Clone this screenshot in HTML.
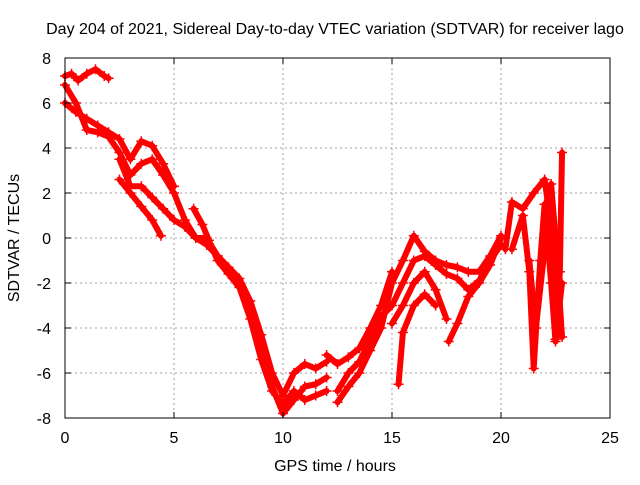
<!DOCTYPE html>
<html><head><meta charset="utf-8"><style>
body{margin:0;background:#fff;}
svg text{font-family:"Liberation Sans",sans-serif;font-size:16px;fill:#000;}
</style></head><body>
<svg id="chart" width="640" height="480">
<rect width="640" height="480" fill="#fff"/>
<g id="grid"></g><g id="marks"></g><g id="axes"></g>
<text x="335" y="34" text-anchor="middle">Day 204 of 2021, Sidereal Day-to-day VTEC variation (SDTVAR) for receiver lago</text>
<text x="335" y="471" text-anchor="middle">GPS time / hours</text>
<text transform="translate(19,238) rotate(-90)" text-anchor="middle">SDTVAR / TECUs</text>
</svg>
<script>
const xTicks=[0,5,10,15,20,25];
const yTicks=[-8,-6,-4,-2,0,2,4,6,8];
const trackA=[[0,7.2],[0.3,7.3],[0.6,7.0],[1,7.3],[1.4,7.5],[1.8,7.2],[2,7.1]];
const trackB=[[0,6.0],[0.5,5.6],[1,5.3],[1.5,5.0],[2,4.7],[2.5,4.4],[3,3.5],[3.5,4.3],[4,4.1],[4.5,3.3],[5,2.3]];
const trackC=[[0,6.8],[0.5,6.0],[1,4.8],[1.5,4.7],[2,4.5],[2.5,3.8],[3,2.8],[3.5,3.3],[4,3.5],[4.5,2.8],[5,2.0],[5.5,0.8],[6,0.0],[6.5,0],[7,-0.8],[7.5,-1.3],[8,-1.8],[8.5,-2.8],[9,-4.3],[9.5,-6.0],[10,-7.0],[10.5,-6.0],[11,-5.6],[11.5,-5.8],[12,-5.5]];
const trackD=[[2.5,2.6],[3,2.0],[3.5,1.4],[4,0.8],[4.4,0.1]];
const trackE=[[2.5,3.5],[3,2.3],[3.5,2.3],[4,1.8],[4.5,1.3],[5,0.8],[5.5,0.5],[6,0.0],[6.5,-0.3],[7,-0.8],[7.5,-1.5],[8,-2.1],[8.5,-3.2],[9,-5.0],[9.5,-6.6],[10,-7.8],[10.5,-7.2],[11,-6.6],[11.5,-6.5],[12,-6.2]];
const trackF=[[5.9,1.3],[6.3,0.6],[6.6,-0.1],[7,-1.0],[7.5,-1.6],[8,-2.2],[8.5,-3.6],[9,-5.4],[9.5,-6.8],[10,-7.4],[10.5,-6.8],[11,-7.2],[11.5,-7.0],[12,-6.8]];
const trackG=[[12.5,-7.3],[13,-6.6],[13.5,-6.0],[14,-5.0],[14.5,-4.0],[15,-2.0],[15.5,-1.0],[16,0.1],[16.5,-0.6],[17,-1.0],[17.5,-1.2],[18,-1.3],[18.5,-1.5],[19,-1.5],[19.5,-0.8],[20,0.1]];
const trackH=[[12.5,-6.8],[13,-6.0],[13.5,-5.5],[14,-4.5],[14.5,-3.5],[15,-3.0],[15.5,-2.0],[16,-1.0],[16.5,-0.8],[17,-1.2],[17.5,-1.6],[18,-1.8],[18.5,-2.3],[19,-1.9],[19.5,-1.0],[20,-0.3]];
const trackI=[[12,-5.2],[12.5,-5.6],[13,-5.3],[13.5,-4.9],[14,-4.0],[14.5,-3.0],[15,-1.5]];
const trackJ=[[15,-3.8],[15.5,-3.0],[16,-2.0],[16.5,-1.5],[17,-2.3],[17.5,-3.6]];
const trackK=[[15.3,-6.5],[15.5,-4.2],[16,-3.0],[16.5,-2.5],[17,-3.0]];
const trackL=[[17.6,-4.6],[18,-3.8],[18.5,-2.6],[19,-2.0],[19.5,-1.2],[20,0.0]];
const trackM=[[20.2,-0.5],[20.5,1.6],[21,1.3],[21.5,2.0],[22,2.6],[22.3,0.5],[22.5,-4.5],[22.8,-2.0]];
const trackN=[[20.5,-0.5],[21,1.0],[21.3,-1.5],[21.5,-5.8],[21.8,-1.0],[22,1.5],[22.3,-2.0],[22.5,-4.6],[22.7,-1.5],[22.8,3.8]];
const trackO=[[21.3,-1.0],[21.6,-4.0],[22,-0.5],[22.3,2.4],[22.5,0.0],[22.8,-4.4]];
const tracks=[trackA,trackB,trackC,trackD,trackE,trackF,trackG,trackH,trackI,trackJ,trackK,trackL,trackM,trackN,trackO];

const X0=65,X1=610,Y0=418,Y1=58;
const sx=v=>X0+(v-0)/(25-0)*(X1-X0);
const sy=v=>Y0-(v+8)/16*(Y0-Y1);
const NS="http://www.w3.org/2000/svg";
const mk=(t,a,p)=>{const e=document.createElementNS(NS,t);for(const k in a)e.setAttribute(k,a[k]);p.appendChild(e);return e;};
const grid=document.getElementById('grid'),axes=document.getElementById('axes'),marks=document.getElementById('marks');
xTicks.forEach(t=>{
  const x=sx(t);
  if(t>0&&t<25){const g=mk('line',{x1:x,x2:x,y1:Y1,y2:Y0,stroke:'#a0a0a0','stroke-dasharray':'2,3'},grid);
  
  }
  const l=mk('text',{x:x,y:Y0+25,'text-anchor':'middle'},axes);l.textContent=t;
  
  
  mk('line',{x1:x,x2:x,y1:Y0,y2:Y0-6,stroke:'#000'},axes);
  mk('line',{x1:x,x2:x,y1:Y1,y2:Y1+6,stroke:'#000'},axes);
});
yTicks.forEach(t=>{
  const y=sy(t);
  if(t>-8&&t<8){const g=mk('line',{x1:X0,x2:X1,y1:y,y2:y,stroke:'#a0a0a0','stroke-dasharray':'2,3'},grid);
  
  }
  const l=mk('text',{x:X0-14,y:y+6,'text-anchor':'end'},axes);l.textContent=t;
  
  
  mk('line',{x1:X0,x2:X0+6,y1:y,y2:y,stroke:'#000'},axes);
  mk('line',{x1:X1,x2:X1-6,y1:y,y2:y,stroke:'#000'},axes);
});
const fr=mk('rect',{x:X0,y:Y1,width:X1-X0,height:Y0-Y1,fill:'none',stroke:'#000'},axes);


tracks.forEach((tr,i)=>{
  const pl=mk('polyline',{points:tr.map(p=>sx(p[0])+','+sy(p[1])).join(' '),fill:'none',stroke:'#ff0000','stroke-width':6,'stroke-linejoin':'round','stroke-linecap':'round'},marks);
  
  
  tr.forEach(p=>{
    const x=sx(p[0]),y=sy(p[1]);
    const m=mk('path',{d:`M${x-5},${y}H${x+5}M${x},${y-5}V${y+5}`,stroke:'#ff0000','stroke-width':1.5},marks);
    
    
  });
});
</script>
</body></html>
